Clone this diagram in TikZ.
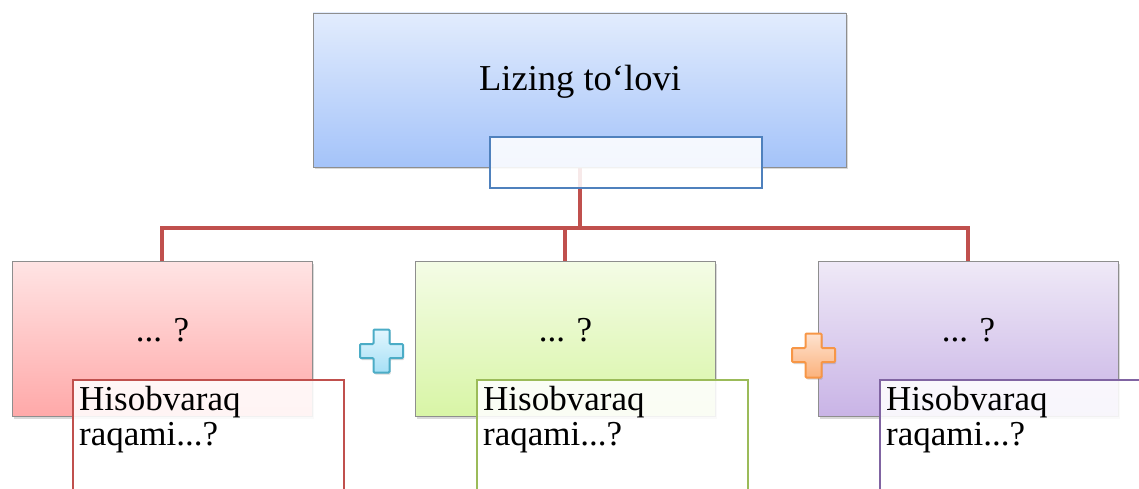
\documentclass[tikz,border=0pt]{standalone}
\usepackage{fontspec}
\setmainfont{Liberation Serif}
\usetikzlibrary{shadows,backgrounds}
\definecolor{boxgray}{HTML}{8E8E8E}
\definecolor{conred}{HTML}{C0504D}
\definecolor{edgeblue}{HTML}{4F81BD}
\definecolor{edgegreen}{HTML}{9BBB59}
\definecolor{edgepurple}{HTML}{8064A2}
\definecolor{topA}{HTML}{E2ECFD}
\definecolor{topB}{HTML}{A4C3F9}
\definecolor{redA}{HTML}{FFE4E4}
\definecolor{redB}{HTML}{FFA9A9}
\definecolor{greenA}{HTML}{F4FCE6}
\definecolor{greenB}{HTML}{D8F5A6}
\definecolor{purpA}{HTML}{EFE9F7}
\definecolor{purpB}{HTML}{C9B4E6}
\definecolor{plusBA}{HTML}{E2F6FE}
\definecolor{plusBB}{HTML}{A6E0F6}
\definecolor{plusBE}{HTML}{4BACC6}
\definecolor{plusOA}{HTML}{FEE2CF}
\definecolor{plusOB}{HTML}{FBB27C}
\definecolor{plusOE}{HTML}{F79646}
\tikzset{
  bigbox/.style={draw=boxgray, line width=0.8pt, minimum width=533pt, minimum height=154pt,
    inner sep=0pt, drop shadow={opacity=0.3, shadow xshift=1.5pt, shadow yshift=-2.5pt}},
  catbox/.style={draw=boxgray, line width=0.8pt, minimum width=300pt, minimum height=155pt,
    inner sep=0pt, drop shadow={opacity=0.3, shadow xshift=1.5pt, shadow yshift=-2.5pt}},
  notebox/.style={fill=white, fill opacity=0.88, line width=1.6pt, minimum width=271pt,
    minimum height=140pt, inner sep=0pt, anchor=north west},
  bigtxt/.style={font=\fontsize{35}{35}\selectfont, inner sep=0pt},
  notetxt/.style={font=\fontsize{35}{35}\selectfont, inner sep=0pt, align=left, anchor=base west},
  connector/.style={draw=conred, line width=4.5pt},
  plusshape/.style={line width=2pt, rounded corners=1pt,
    drop shadow={opacity=0.3, shadow xshift=1pt, shadow yshift=-2pt}}
}
\begin{document}
\begin{tikzpicture}[x=1pt,y=1pt]
\useasboundingbox (0,0) rectangle (1139,488);
\clip (0,0) rectangle (1139,488);
% top box
\node[bigbox, top color=topA, bottom color=topB] (top) at (579.5,398) {};
\node[bigtxt, font=\fontsize{36.5}{36.5}\selectfont, anchor=base] (toptxt) at (580,397) {Lizing to‘lovi};
\coordinate (hub) at (580,260);
% category boxes
\node[catbox, top color=redA, bottom color=redB] (b1) at (162,149.5) {};
\node[catbox, top color=greenA, bottom color=greenB] (b2) at (565,149.5) {};
\node[catbox, top color=purpA, bottom color=purpB] (b3) at (968,149.5) {};
% connectors
\begin{scope}[on background layer]
\draw[connector] (top.south -| hub) -- (hub);
\draw[connector] (b1.north) |- (hub) -| (b3.north);
\draw[connector] (b2.north) -- (b2.north |- hub);
\end{scope}
% inner box of top
\node[draw=edgeblue, line width=1.2pt, fill=white, fill opacity=0.88, minimum width=272pt,
  minimum height=51pt, inner sep=0pt] (inner) at (626,325.5) {};
% labels in category boxes
\node[bigtxt, anchor=base] (t1) at (162.5,147) {... ?};
\node[bigtxt, anchor=base] (t2) at (565.5,147) {... ?};
\node[bigtxt, anchor=base] (t3) at (968.5,147) {... ?};
% note boxes
\node[notebox, draw=conred] (n1) at (72,109) {};
\node[notebox, draw=edgegreen] (n2) at (476,109) {};
\node[notebox, draw=edgepurple] (n3) at (879,109) {};
\node[notetxt] (nt1) at (79,43) {Hisobvaraq\\raqami...?};
\node[notetxt] (nt2) at (483,43) {Hisobvaraq\\raqami...?};
\node[notetxt] (nt3) at (886,43) {Hisobvaraq\\raqami...?};
% plus signs
\draw[plusshape, draw=plusBE, top color=plusBA, bottom color=plusBB]
  (373.5,158.5) -- (389.5,158.5) -- (389.5,144) -- (403,144) -- (403,130) -- (389.5,130)
  -- (389.5,115.5) -- (373.5,115.5) -- (373.5,130) -- (360,130) -- (360,144) -- (373.5,144) -- cycle;
\draw[plusshape, draw=plusOE, top color=plusOA, bottom color=plusOB]
  (805.5,154.5) -- (821.5,154.5) -- (821.5,140) -- (835,140) -- (835,126) -- (821.5,126)
  -- (821.5,110.5) -- (805.5,110.5) -- (805.5,126) -- (792,126) -- (792,140) -- (805.5,140) -- cycle;
\end{tikzpicture}
\end{document}
